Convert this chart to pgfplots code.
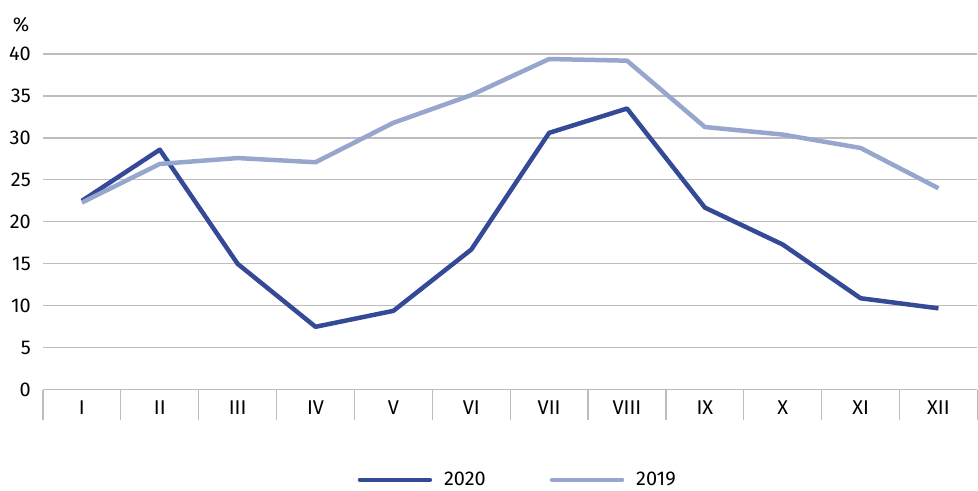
\documentclass[border=0pt]{standalone}
\usepackage{fontspec}
\setmainfont{Fira Sans}
\usepackage{pgfplots}
\pgfplotsset{compat=1.18}
\definecolor{c2020}{HTML}{354A96}
\definecolor{c2019}{HTML}{97A6CC}
\definecolor{gridc}{HTML}{BDBDBD}
\begin{document}
\begin{tikzpicture}
\begin{axis}[
  width=935bp, height=336bp, scale only axis,
  clip=false,
  /pgf/number format/assume math mode=true,
  xmin=-0.5, xmax=11.5, ymin=0, ymax=40,
  ytick={0,5,...,40},
  ymajorgrids, grid style={gridc, line width=1.2bp},
  axis line style={draw=none},
  xtick={0,...,11},
  xticklabels={I,II,III,IV,V,VI,VII,VIII,IX,X,XI,XII},
  major tick length=0pt,
  xtick pos=bottom, ytick pos=left,
  extra x ticks={-0.5,0.5,...,11.5},
  extra x tick labels={},
  extra x tick style={major tick length=30bp, tick align=outside, xtick pos=bottom,
     tick style={gridc, line width=1.2bp}, grid=none},
  font=\fontsize{20}{23}\selectfont,
  tick label style={font=\fontsize{20}{23}\selectfont},
  yticklabel style={inner sep=0pt, xshift=-12bp},
  xticklabel style={inner sep=0pt, yshift=-11bp},
  legend columns=2,
  legend style={draw=none, fill=none, inner sep=0pt, at={(0.507,-0.268)}, anchor=center,
     nodes={inner sep=0pt, anchor=west, font=\fontsize{20}{23}\selectfont},
     /tikz/every even column/.append style={column sep=64bp}},
  legend image code/.code={\draw[#1, line cap=round] (0bp,0bp) -- (70bp,0bp); \path (82bp,0bp);},
]
\addplot[c2020, line width=4.5bp, line join=round] coordinates {
 (0,22.5) (1,28.6) (2,15.0) (3,7.5) (4,9.4) (5,16.7) (6,30.6) (7,33.5) (8,21.7) (9,17.3) (10,10.9) (11,9.7)};
\addlegendentry{2020}
\addplot[c2019, line width=4.5bp, line join=round] coordinates {
 (0,22.3) (1,26.9) (2,27.6) (3,27.1) (4,31.8) (5,35.1) (6,39.4) (7,39.2) (8,31.3) (9,30.4) (10,28.8) (11,24.0)};
\addlegendentry{2019}
\node[anchor=base, font=\fontsize{20}{23}\selectfont] at ([xshift=-22bp, yshift=22bp]rel axis cs:0,1) {\%};
\path ([xshift=-43bp,yshift=-101bp]rel axis cs:0,0) rectangle ([yshift=54bp]rel axis cs:1,1);
\end{axis}
\end{tikzpicture}
\end{document}
